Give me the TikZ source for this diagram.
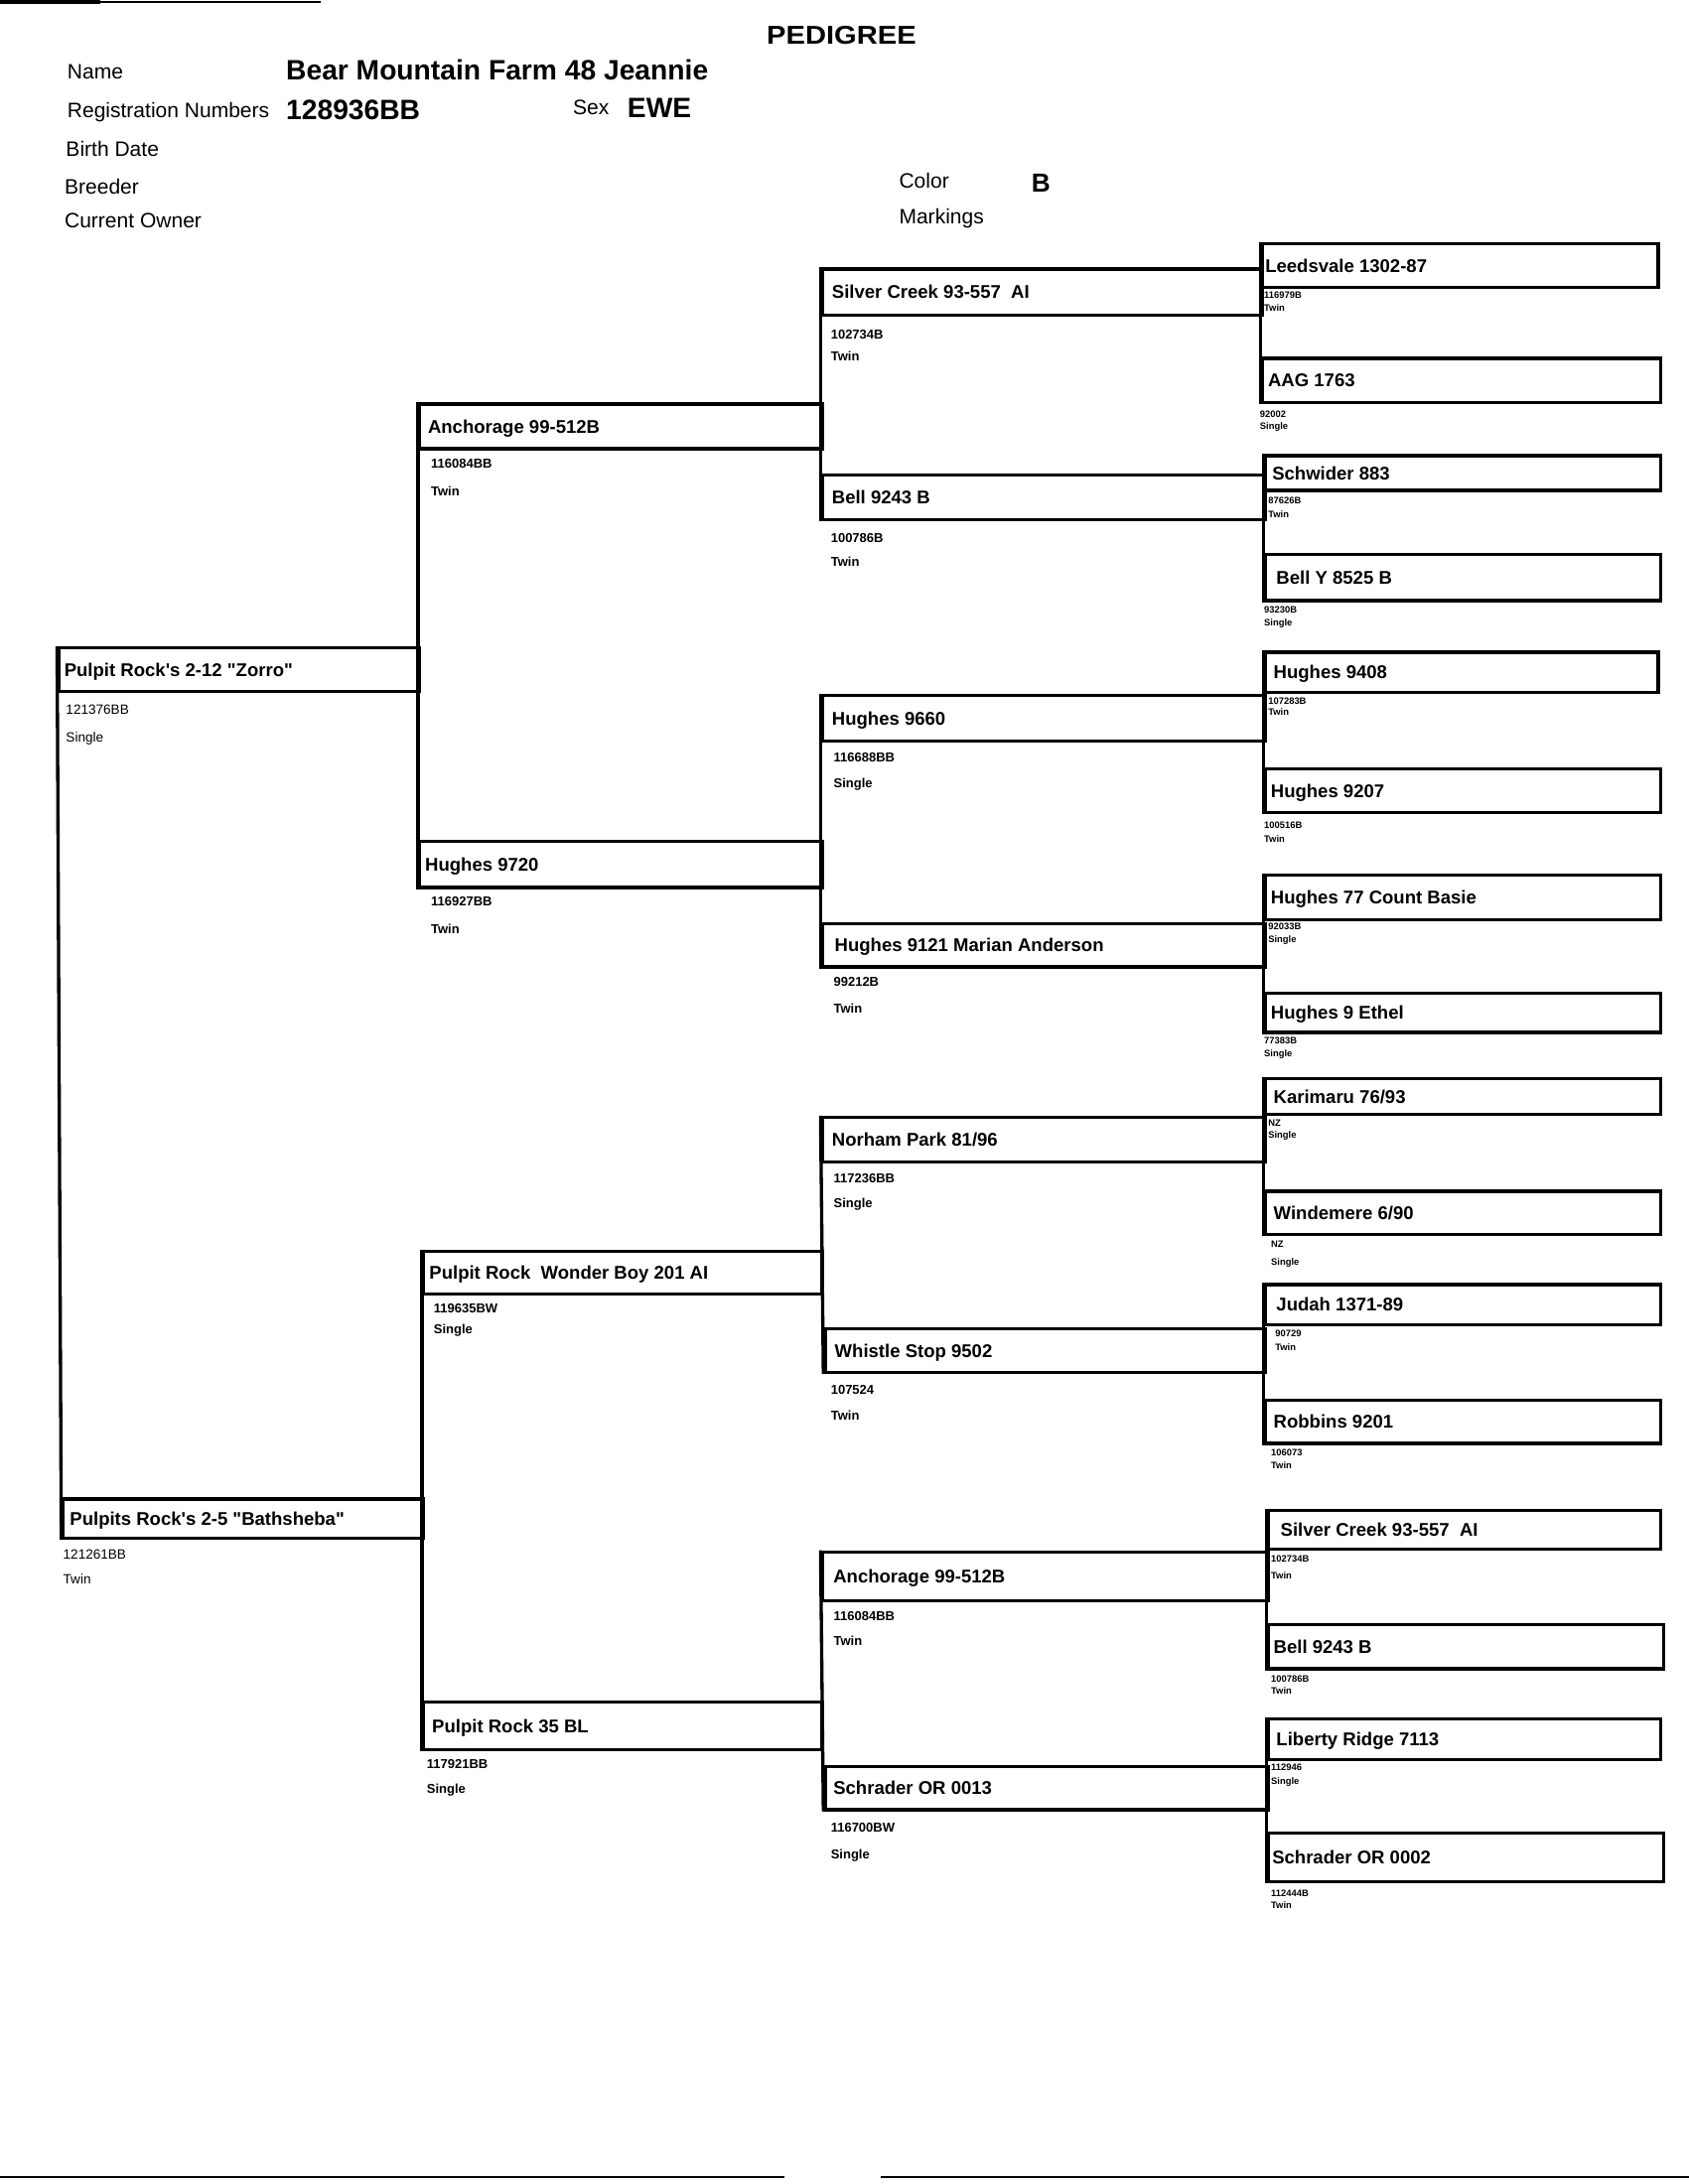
\documentclass[tikz,border=0pt]{standalone}
\usepackage{fontspec}
\setmainfont{Liberation Sans}[Ligatures=TeXOff]
\newfontfamily\widefont[FakeStretch=1.12]{Liberation Sans}
\newcommand\pu{0.017815}
\tikzset{
  pbox/.style={draw, line width=1.2pt, inner sep=0pt, anchor=north west,
    font=\bfseries\fontsize{6.7}{7}\selectfont, text height=4.8pt, text depth=0pt},
  brk/.style={line width=1.2pt},
  subA/.style={anchor=west, inner sep=0pt, font=\fontsize{4.9}{5}\selectfont, text height=3.5pt, text depth=0pt},
  subB/.style={anchor=west, inner sep=0pt, font=\bfseries\fontsize{4.7}{5}\selectfont, text height=3.4pt, text depth=0pt},
  subC/.style={anchor=west, inner sep=0pt, font=\bfseries\fontsize{3.4}{4}\selectfont, text height=2.45pt, text depth=0pt},
  hdr/.style={anchor=west, inner sep=0pt, font=\fontsize{7.6}{8}\selectfont, text height=5.45pt, text depth=0pt},
  hdrb/.style={anchor=west, inner sep=0pt, font=\bfseries\fontsize{10.2}{11}\selectfont, text height=7.3pt, text depth=0pt},
  ttl/.style={inner sep=0pt, font=\widefont\bfseries\fontsize{9.4}{10}\selectfont, text height=6.7pt, text depth=0pt},
  edge/.style={line width=0.6pt}
}
% #1 name #2 x1 #3 y1 #4 x2 #5 y2 #6 text offset #7 text
\newcommand\pedbox[7]{%
  \pgfmathsetmacro\bw{(#4-#2)*\pu}%
  \pgfmathsetmacro\bh{(#5-#3)*\pu}%
  \pgfmathsetmacro\bo{#6*\pu}%
  \node[pbox, minimum height=\bh cm] (#1) at (#2,#3) {\makebox[\bw cm][l]{\hspace*{\bo cm}#7}};%
}
% #1 name #2 style #3 x #4 y1 #5 y2 #6 text1 #7 text2
\newcommand\sublab[7]{%
  \node[#2] (#1id) at (#3,#4) {#6};%
  \node[#2] (#1bt) at (#3,#5) {#7};%
}
\begin{document}
\begin{tikzpicture}[x=\pu cm, y=-\pu cm]
\path[use as bounding box] (0,0) rectangle (1212,1568);
% scan edge marks
\draw[line width=1.4pt] (0,1.5) -- (72,1.5);
\draw[edge] (72,1.5) -- (230,1.5);
\draw[edge] (0,1563) -- (563,1563);
\draw[edge] (632,1563) -- (1212,1563);

% header
\node[ttl] (title) at (604,25) {PEDIGREE};
\node[hdr] (hname) at (48,51) {Name};
\node[hdrb] (vname) at (205,50) {Bear Mountain Farm 48 Jeannie};
\node[hdr] (hreg) at (48,79) {Registration Numbers};
\node[hdrb] (vreg) at (205,79) {128936BB};
\node[hdr] (hsex) at (411,77) {Sex};
\node[hdrb] (vsex) at (450,77) {EWE};
\node[hdr] (hbirth) at (47,107) {Birth Date};
\node[hdr] (hbreed) at (46,134) {Breeder};
\node[hdr] (howner) at (46,158) {Current Owner};
\node[hdr] (hcolor) at (645,130) {Color};
\node[hdrb, font=\bfseries\fontsize{9.5}{10}\selectfont, text height=6.8pt] (vcolor) at (740,131) {B};
\node[hdr] (hmark) at (645,155) {Markings};

% generation 1
\pedbox{zorro}{41}{464}{300}{495}{4}{Pulpit Rock's 2-12 "Zorro"}
\pedbox{bath}{44}{1075}{303}{1103}{5}{Pulpits Rock's 2-5 "Bathsheba"}
\draw[brk] (zorro.north west) -- (bath.south west);
\sublab{zorro}{subA}{47}{509}{529}{121376BB}{Single}
\sublab{bath}{subA}{45}{1116}{1134}{121261BB}{Twin}

% generation 2
\pedbox{anch}{300}{289}{589}{321}{6}{Anchorage 99-512B}
\pedbox{hug}{300}{603}{589}{636}{4}{Hughes 9720}
\draw[brk] (anch.north west) -- (hug.south west);
\sublab{anch}{subB}{309}{333}{353}{116084BB}{Twin}
\sublab{hug}{subB}{309}{647}{667}{116927BB}{Twin}
\pedbox{wond}{303}{897}{589}{928}{4}{Pulpit Rock\ \ Wonder Boy 201 AI}
\pedbox{pr}{303}{1221}{589}{1255}{6}{Pulpit Rock 35 BL}
\draw[brk] (wond.north west) -- (pr.south west);
\sublab{wond}{subB}{311}{939}{954}{119635BW}{Single}
\sublab{pr}{subB}{306}{1266}{1284}{117921BB}{Single}

% generation 3
\pedbox{ga}{589}{192}{905}{225}{7}{Silver Creek 93-557\ \ AI}
\pedbox{gb}{589}{340}{907}{372}{7}{Bell 9243 B}
\draw[brk] (ga.north west) -- (gb.south west);
\sublab{ga}{subB}{596}{240}{256}{102734B}{Twin}
\sublab{gb}{subB}{596}{386}{403}{100786B}{Twin}
\pedbox{gc}{589}{498}{907}{531}{7}{Hughes 9660}
\pedbox{gd}{589}{662}{907}{693}{9}{Hughes 9121 Marian Anderson}
\draw[brk] (gc.north west) -- (gd.south west);
\sublab{gc}{subB}{598}{544}{562}{116688BB}{Single}
\sublab{gd}{subB}{598}{705}{724}{99212B}{Twin}
\pedbox{ge}{589}{801}{907}{833}{7}{Norham Park 81/96}
\pedbox{gf}{591}{953}{907}{984}{7}{Whistle Stop 9502}
\draw[brk] (ge.north west) -- (gf.south west);
\sublab{ge}{subB}{598}{846}{864}{117236BB}{Single}
\sublab{gf}{subB}{596}{998}{1016}{107524}{Twin}
\pedbox{gg}{589}{1113}{909}{1148}{8}{Anchorage 99-512B}
\pedbox{gh}{591}{1267}{909}{1298}{6}{Schrader OR 0013}
\draw[brk] (gg.north west) -- (gh.south west);
\sublab{gg}{subB}{598}{1160}{1178}{116084BB}{Twin}
\sublab{gh}{subB}{596}{1312}{1331}{116700BW}{Single}

% generation 4
\pedbox{la}{905}{174}{1189}{205}{2}{Leedsvale 1302-87}
\pedbox{lb}{905}{256}{1191}{288}{4}{AAG 1763}
\draw[brk] (la.north west) -- (lb.south west);
\sublab{la}{subC}{907}{212}{221}{116979B}{Twin}
\sublab{lb}{subC}{904}{297}{306}{92002}{Single}
\pedbox{lc}{907}{326}{1191}{351}{5}{Schwider 883}
\pedbox{ld}{907}{397}{1191}{430}{8}{Bell Y 8525 B}
\draw[brk] (lc.north west) -- (ld.south west);
\sublab{lc}{subC}{910}{359}{369}{87626B}{Twin}
\sublab{ld}{subC}{907}{438}{447}{93230B}{Single}
\pedbox{le}{907}{467}{1189}{496}{6}{Hughes 9408}
\pedbox{lf}{907}{551}{1191}{582}{4}{Hughes 9207}
\draw[brk] (le.north west) -- (lf.south west);
\sublab{le}{subC}{910}{503}{511}{107283B}{Twin}
\sublab{lf}{subC}{907}{592}{602}{100516B}{Twin}
\pedbox{lg}{907}{627}{1191}{659}{4}{Hughes 77 Count Basie}
\pedbox{lh}{907}{712}{1191}{740}{4}{Hughes 9 Ethel}
\draw[brk] (lg.north west) -- (lh.south west);
\sublab{lg}{subC}{910}{665}{674}{92033B}{Single}
\sublab{lh}{subC}{907}{747}{756}{77383B}{Single}
\pedbox{li}{907}{773}{1191}{799}{6}{Karimaru 76/93}
\pedbox{lj}{907}{854}{1191}{885}{6}{Windemere 6/90}
\draw[brk] (li.north west) -- (lj.south west);
\sublab{li}{subC}{910}{806}{815}{NZ}{Single}
\sublab{lj}{subC}{912}{893}{906}{NZ}{Single}
\pedbox{lk}{907}{921}{1191}{950}{8}{Judah 1371-89}
\pedbox{ll}{907}{1004}{1191}{1035}{6}{Robbins 9201}
\draw[brk] (lk.north west) -- (ll.south west);
\sublab{lk}{subC}{915}{957}{967}{90729}{Twin}
\sublab{ll}{subC}{912}{1043}{1052}{106073}{Twin}
\pedbox{lm}{909}{1083}{1191}{1111}{9}{Silver Creek 93-557\ \ AI}
\pedbox{ln}{909}{1165}{1193}{1197}{4}{Bell 9243 B}
\draw[brk] (lm.north west) -- (ln.south west);
\sublab{lm}{subC}{912}{1119}{1131}{102734B}{Twin}
\sublab{ln}{subC}{912}{1205}{1214}{100786B}{Twin}
\pedbox{lo}{909}{1233}{1191}{1262}{6}{Liberty Ridge 7113}
\pedbox{lp}{909}{1315}{1193}{1350}{3}{Schrader OR 0002}
\draw[brk] (lo.north west) -- (lp.south west);
\sublab{lo}{subC}{912}{1269}{1279}{112946}{Single}
\sublab{lp}{subC}{912}{1359}{1368}{112444B}{Twin}
\end{tikzpicture}
\end{document}
